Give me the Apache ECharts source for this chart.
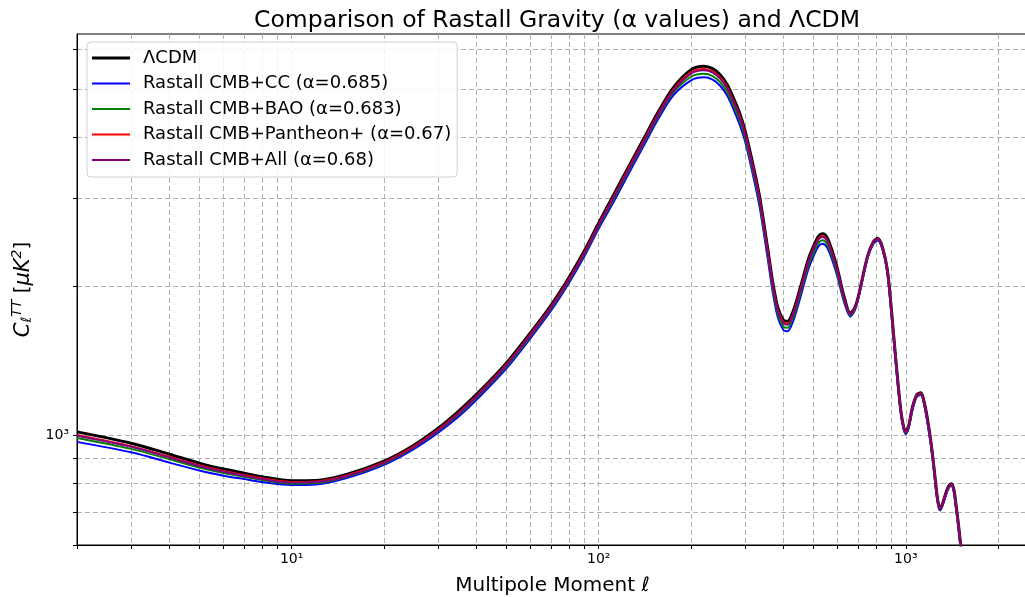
<!DOCTYPE html>
<html>
<head>
<meta charset="utf-8">
<script src="https://cdn.jsdelivr.net/npm/echarts@6/dist/echarts.min.js"></script>
<style>
  html, body { margin: 0; padding: 0; background: #fff; }
  #chart { width: 1025px; height: 597px; }
</style>
</head>
<body>
<div id="chart"></div>
<script>
// multipole moments (x)
const ell = [2, 3, 4, 5, 6, 7, 8, 10, 12, 15, 20, 25, 30, 35, 40, 50, 60, 70, 80, 90, 100, 112, 127, 140, 156, 175, 200, 220, 235, 249, 262, 275, 288, 300, 320, 335, 355, 368, 383, 400, 412, 430, 455, 480, 500, 520, 536, 555, 580, 600, 630, 659, 680, 700, 750, 785, 810, 840, 871, 900, 927, 963, 985, 1000, 1020, 1052, 1085, 1119, 1150, 1178, 1210, 1238, 1270, 1294, 1320, 1349, 1380, 1409, 1435, 1455, 1480, 1510, 1560];

// C_l^TT [uK^2]
const lcdm = [1015, 963, 915, 878, 854, 838, 824, 809, 810, 832, 886, 954, 1032, 1118, 1208, 1397, 1610, 1830, 2080, 2360, 2680, 3060, 3540, 3958, 4482, 5028, 5463, 5550, 5490, 5333, 5100, 4780, 4460, 4100, 3450, 3000, 2380, 2050, 1810, 1705, 1697, 1780, 2000, 2250, 2400, 2520, 2548, 2500, 2320, 2154, 1900, 1762, 1800, 1902, 2292, 2460, 2495, 2390, 2154, 1760, 1430, 1123, 1035, 1015, 1040, 1141, 1205, 1217, 1160, 1072, 960, 850, 740, 711, 730, 762, 790, 798, 775, 729, 670, 600, 520];
const rastallCC = [969, 923, 880, 848, 828, 815, 804, 793, 795, 818, 871, 937, 1011, 1090, 1178, 1362, 1570, 1784, 2028, 2301, 2613, 2962, 3427, 3831, 4339, 4852, 5201, 5273, 5216, 5066, 4845, 4541, 4226, 3903, 3288, 2862, 2273, 1958, 1729, 1628, 1621, 1700, 1910, 2149, 2292, 2407, 2433, 2388, 2227, 2079, 1853, 1736, 1777, 1879, 2269, 2435, 2470, 2366, 2122, 1725, 1401, 1106, 1025, 1005, 1030, 1124, 1193, 1205, 1143, 1051, 941, 833, 729, 704, 723, 754, 782, 790, 763, 714, 657, 588, 510];
const rastallBAO = [987, 938, 894, 860, 838, 824, 812, 798, 800, 823, 876, 943, 1019, 1100, 1189, 1375, 1584, 1801, 2047, 2322, 2637, 2999, 3469, 3879, 4392, 4912, 5288, 5361, 5303, 5152, 4927, 4617, 4312, 3965, 3340, 2907, 2309, 1989, 1756, 1654, 1646, 1727, 1940, 2183, 2328, 2444, 2472, 2425, 2257, 2102, 1868, 1744, 1784, 1887, 2278, 2448, 2483, 2378, 2132, 1737, 1411, 1112, 1028, 1008, 1033, 1130, 1197, 1208, 1148, 1058, 948, 839, 733, 706, 725, 757, 784, 792, 767, 720, 661, 592, 513];
const rastallPantheon = [1001, 950, 904, 869, 846, 831, 818, 804, 806, 828, 882, 949, 1026, 1110, 1200, 1387, 1599, 1817, 2065, 2343, 2661, 3036, 3512, 3926, 4446, 4983, 5403, 5483, 5424, 5269, 5039, 4723, 4410, 4055, 3412, 2970, 2356, 2030, 1792, 1688, 1680, 1762, 1980, 2228, 2376, 2495, 2523, 2475, 2299, 2137, 1889, 1757, 1795, 1896, 2287, 2455, 2490, 2385, 2148, 1753, 1424, 1120, 1033, 1013, 1038, 1138, 1203, 1215, 1157, 1068, 956, 847, 738, 710, 729, 760, 788, 796, 773, 726, 667, 598, 518];
const rastallAll = [997, 947, 901, 866, 843, 828, 815, 802, 804, 825, 879, 945, 1022, 1106, 1195, 1382, 1592, 1810, 2057, 2334, 2651, 3020, 3494, 3906, 4424, 4953, 5365, 5450, 5391, 5237, 5008, 4694, 4384, 4030, 3391, 2952, 2342, 2017, 1781, 1678, 1670, 1752, 1968, 2216, 2364, 2482, 2510, 2463, 2290, 2130, 1885, 1753, 1791, 1894, 2285, 2453, 2488, 2383, 2143, 1749, 1421, 1117, 1031, 1011, 1036, 1135, 1200, 1212, 1154, 1066, 954, 845, 736, 708, 727, 759, 787, 795, 771, 725, 666, 596, 517];

const seriesNames = ['ΛCDM', 'Rastall CMB+CC (α=0.685)', 'Rastall CMB+BAO (α=0.683)', 'Rastall CMB+Pantheon+ (α=0.67)', 'Rastall CMB+All (α=0.68)'];
const seriesColors = ['#000000', '#0000ff', '#008000', '#ff0000', '#800080'];
const seriesValues = [lcdm, rastallCC, rastallBAO, rastallPantheon, rastallAll];

// tick positions
const xTicks = [2, 3, 4, 5, 6, 7, 8, 9, 10, 20, 30, 40, 50, 60, 70, 80, 90, 100, 200, 300, 400, 500, 600, 700, 800, 900, 1000, 2000];
const xLabels = [10, 100, 1000];
const yTicks = [600, 700, 800, 900, 1000, 2000, 3000, 4000, 5000, 6000];
const yLabels = [1000];
const supDigits = { 1: '¹', 2: '²', 3: '³' };

const font = 'DejaVu Sans';
const gridLine = { show: true, lineStyle: { color: '#b0b0b0', type: [5, 3], width: 1 } };

const chart = echarts.init(document.getElementById('chart'));

chart.setOption({
  animation: false,
  backgroundColor: '#fff',
  textStyle: { fontFamily: font },
  title: {
    text: 'Comparison of Rastall Gravity (α values) and ΛCDM',
    left: 552,
    textAlign: 'center',
    top: 4,
    textStyle: { fontFamily: font, fontSize: 23.5, fontWeight: 'normal', color: '#000' }
  },
  grid: {
    left: 77, right: -3, top: 34, bottom: 52,
    outerBoundsMode: 'none',
    containLabel: false,
    show: true, borderColor: '#000', borderWidth: 1, backgroundColor: 'transparent'
  },
  legend: {
    orient: 'vertical',
    left: 87,
    top: 42,
    padding: [6, 6, 7, 5],
    itemGap: 5.5,
    itemWidth: 38,
    itemHeight: 3,
    backgroundColor: 'rgba(255,255,255,0.85)',
    borderColor: '#d0d0d0',
    borderWidth: 1,
    borderRadius: 4,
    textStyle: { fontFamily: font, fontSize: 18, lineHeight: 20, color: '#000', padding: [0, 0, 0, 8] },
    data: seriesNames.map((name, i) => ({
      name: name,
      icon: i === 0 ? 'path://M0,0H40V3H0Z' : 'path://M0,0H40V2H0Z'
    }))
  },
  xAxis: {
    type: 'log',
    logBase: 10,
    min: 2,
    max: 2500,
    name: 'Multipole Moment ℓ',
    nameLocation: 'middle',
    nameGap: 31,
    nameTextStyle: { fontFamily: font, fontSize: 20, color: '#000' },
    axisLine: { show: true, onZero: false, lineStyle: { color: '#000', width: 1 } },
    axisTick: { show: true, inside: false, length: 4, customValues: xTicks, lineStyle: { color: '#000' } },
    axisLabel: {
      customValues: xLabels,
      fontFamily: font, fontSize: 14, color: '#000', margin: 7,
      formatter: v => '10' + supDigits[Math.round(Math.log10(v))]
    },
    splitLine: gridLine
  },
  yAxis: {
    type: 'log',
    logBase: 10,
    min: 600,
    max: 6450,
    name: '{c|C}{sub|ℓ}{sup|TT} [{c|μK}{sup|2}]',
    nameLocation: 'middle',
    nameGap: 31,
    nameTextStyle: {
      fontFamily: font, fontSize: 20, color: '#000',
      rich: {
        c: { fontFamily: font, fontSize: 21, fontStyle: 'italic', color: '#000' },
        sub: { fontFamily: font, fontSize: 14, fontStyle: 'italic', color: '#000', padding: [9, 0, 0, 0] },
        sup: { fontFamily: font, fontSize: 14, fontStyle: 'italic', color: '#000', padding: [0, 0, 11, 0] }
      }
    },
    axisLine: { show: true, onZero: false, lineStyle: { color: '#000', width: 1 } },
    axisTick: { show: true, inside: false, length: 4, customValues: yTicks, lineStyle: { color: '#000' } },
    axisLabel: {
      customValues: yLabels,
      fontFamily: font, fontSize: 14, color: '#000', margin: 8,
      formatter: () => '10³'
    },
    splitLine: gridLine
  },
  series: seriesNames.map((name, i) => ({
    name: name,
    type: 'line',
    data: ell.map((l, j) => [l, seriesValues[i][j]]),
    symbol: 'none',
    smooth: 0.3,
    clip: true,
    z: 2 + i,
    lineStyle: { color: seriesColors[i], width: i === 0 ? 3 : 2 },
    itemStyle: { color: seriesColors[i] }
  }))
});
</script>
</body>
</html>
